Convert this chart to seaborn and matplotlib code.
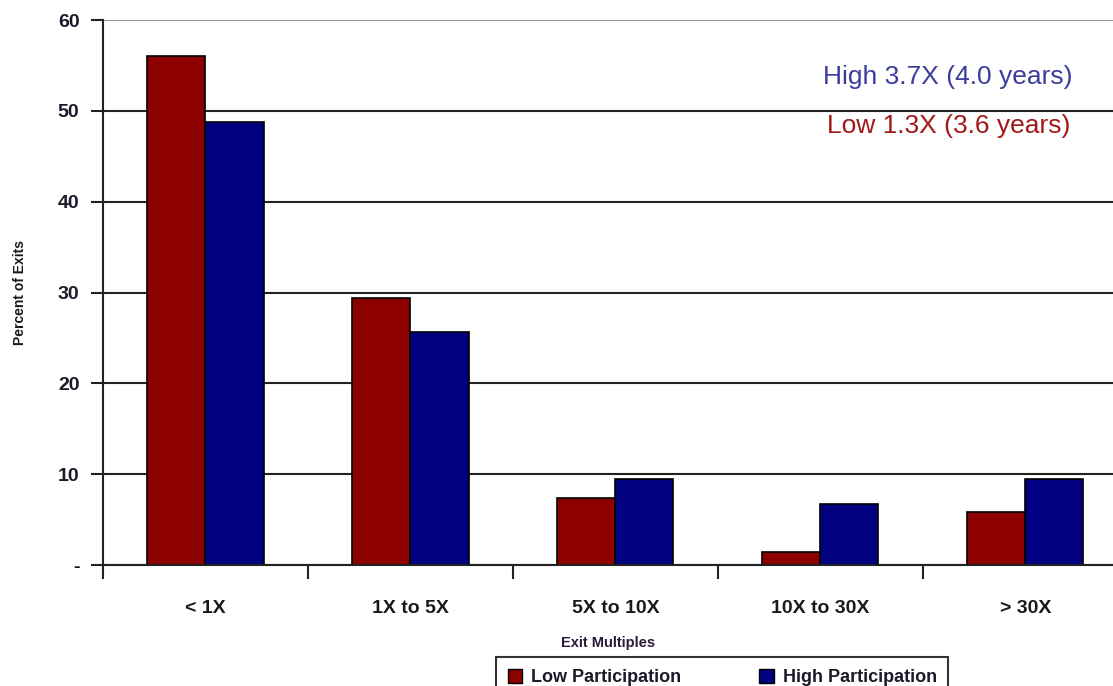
import matplotlib
matplotlib.use("Agg")
import matplotlib.pyplot as plt
from matplotlib import font_manager
from matplotlib.patches import Patch
import seaborn as sns
import pandas as pd

categories = ["< 1X", "1X to 5X", "5X to 10X", "10X to 30X", "> 30X"]
low_participation = [56.0, 29.4, 7.4, 1.4, 5.8]
high_participation = [48.8, 25.6, 9.5, 6.7, 9.5]
series_names = ["Low Participation", "High Participation"]
ytick_values = [0, 10, 20, 30, 40, 50, 60]
ytick_labels = ["-", "10", "20", "30", "40", "50", "60"]

sns.set_theme(style="white")
names = {f.name for f in font_manager.fontManager.ttflist}
fam = ["Liberation Sans Narrow"] if "Liberation Sans Narrow" in names else []
fam += ["Liberation Sans", "DejaVu Sans"]
plt.rcParams["font.family"] = fam

df = pd.DataFrame({
    "cat": categories * 2,
    "val": low_participation + high_participation,
    "series": [series_names[0]] * 5 + [series_names[1]] * 5,
})

colors = ["#8C0000", "#000080"]
fig = plt.figure(figsize=(11.13, 6.86), dpi=100)
ax = fig.add_axes([103 / 1113, 1 - 565 / 686, 1010 / 1113, (565 - 20) / 686])
sns.barplot(data=df, x="cat", y="val", hue="series", palette=colors, saturation=1,
            edgecolor="black", linewidth=1.2, width=0.566, ax=ax, legend=False)

ax.set_xlim(-0.5, 4.427)
ax.set_ylim(0, 60)
ax.set_yticks(ytick_values)
ax.set_yticklabels(ytick_labels, fontsize=14, fontweight="bold", color="#1a1a2a")
ax.tick_params(axis="y", left=True, direction="out", length=9, width=1.5, color="#222222", pad=8)
ax.set_xticks(range(len(categories)))
ax.set_xticklabels(categories, fontsize=14, fontweight="bold", color="#1a1a1a")
ax.tick_params(axis="x", which="major", bottom=False, length=0, pad=25)
ax.set_xticks([i - 0.5 for i in range(len(categories))], minor=True)
ax.tick_params(axis="x", which="minor", bottom=True, direction="out", length=10, width=1.5,
               color="#222222")

ax.grid(axis="y", color="#222222", linewidth=1.5)
ax.set_axisbelow(True)
gl = ax.get_ygridlines()
gl[-1].set_color("#999999")
for s in ["top", "right"]:
    ax.spines[s].set_visible(False)
for s in ["left", "bottom"]:
    ax.spines[s].set_color("#222222")
    ax.spines[s].set_linewidth(1.5)

ax.set_ylabel("Percent of Exits", fontsize=10, fontweight="bold", color="#1a1a1a", labelpad=22)
ax.set_xlabel("Exit Multiples", fontsize=10.5, fontweight="bold", color="#2a1a3a", labelpad=14)

ax.text(0.960, 0.896, "High 3.7X (4.0 years)", transform=ax.transAxes, ha="right", va="center",
        fontsize=19, color="#3C3C9C")
ax.text(0.958, 0.806, "Low 1.3X (3.6 years)", transform=ax.transAxes, ha="right", va="center",
        fontsize=19, color="#A01818")

handles = [Patch(facecolor=c, edgecolor="black", linewidth=1) for c in colors]
leg = fig.legend(handles, series_names, loc="upper center", bbox_to_anchor=(0.649, 0.055),
                 ncol=2, frameon=True, fancybox=False, edgecolor="black",
                 prop={"size": 13, "weight": "bold"}, handlelength=0.8, handleheight=0.8,
                 columnspacing=4.3, borderpad=0.65, handletextpad=0.5)
leg.get_frame().set_linewidth(1.5)
for t in leg.get_texts():
    t.set_color("#1a1a2a")

fig.savefig("out.png", dpi=100)
